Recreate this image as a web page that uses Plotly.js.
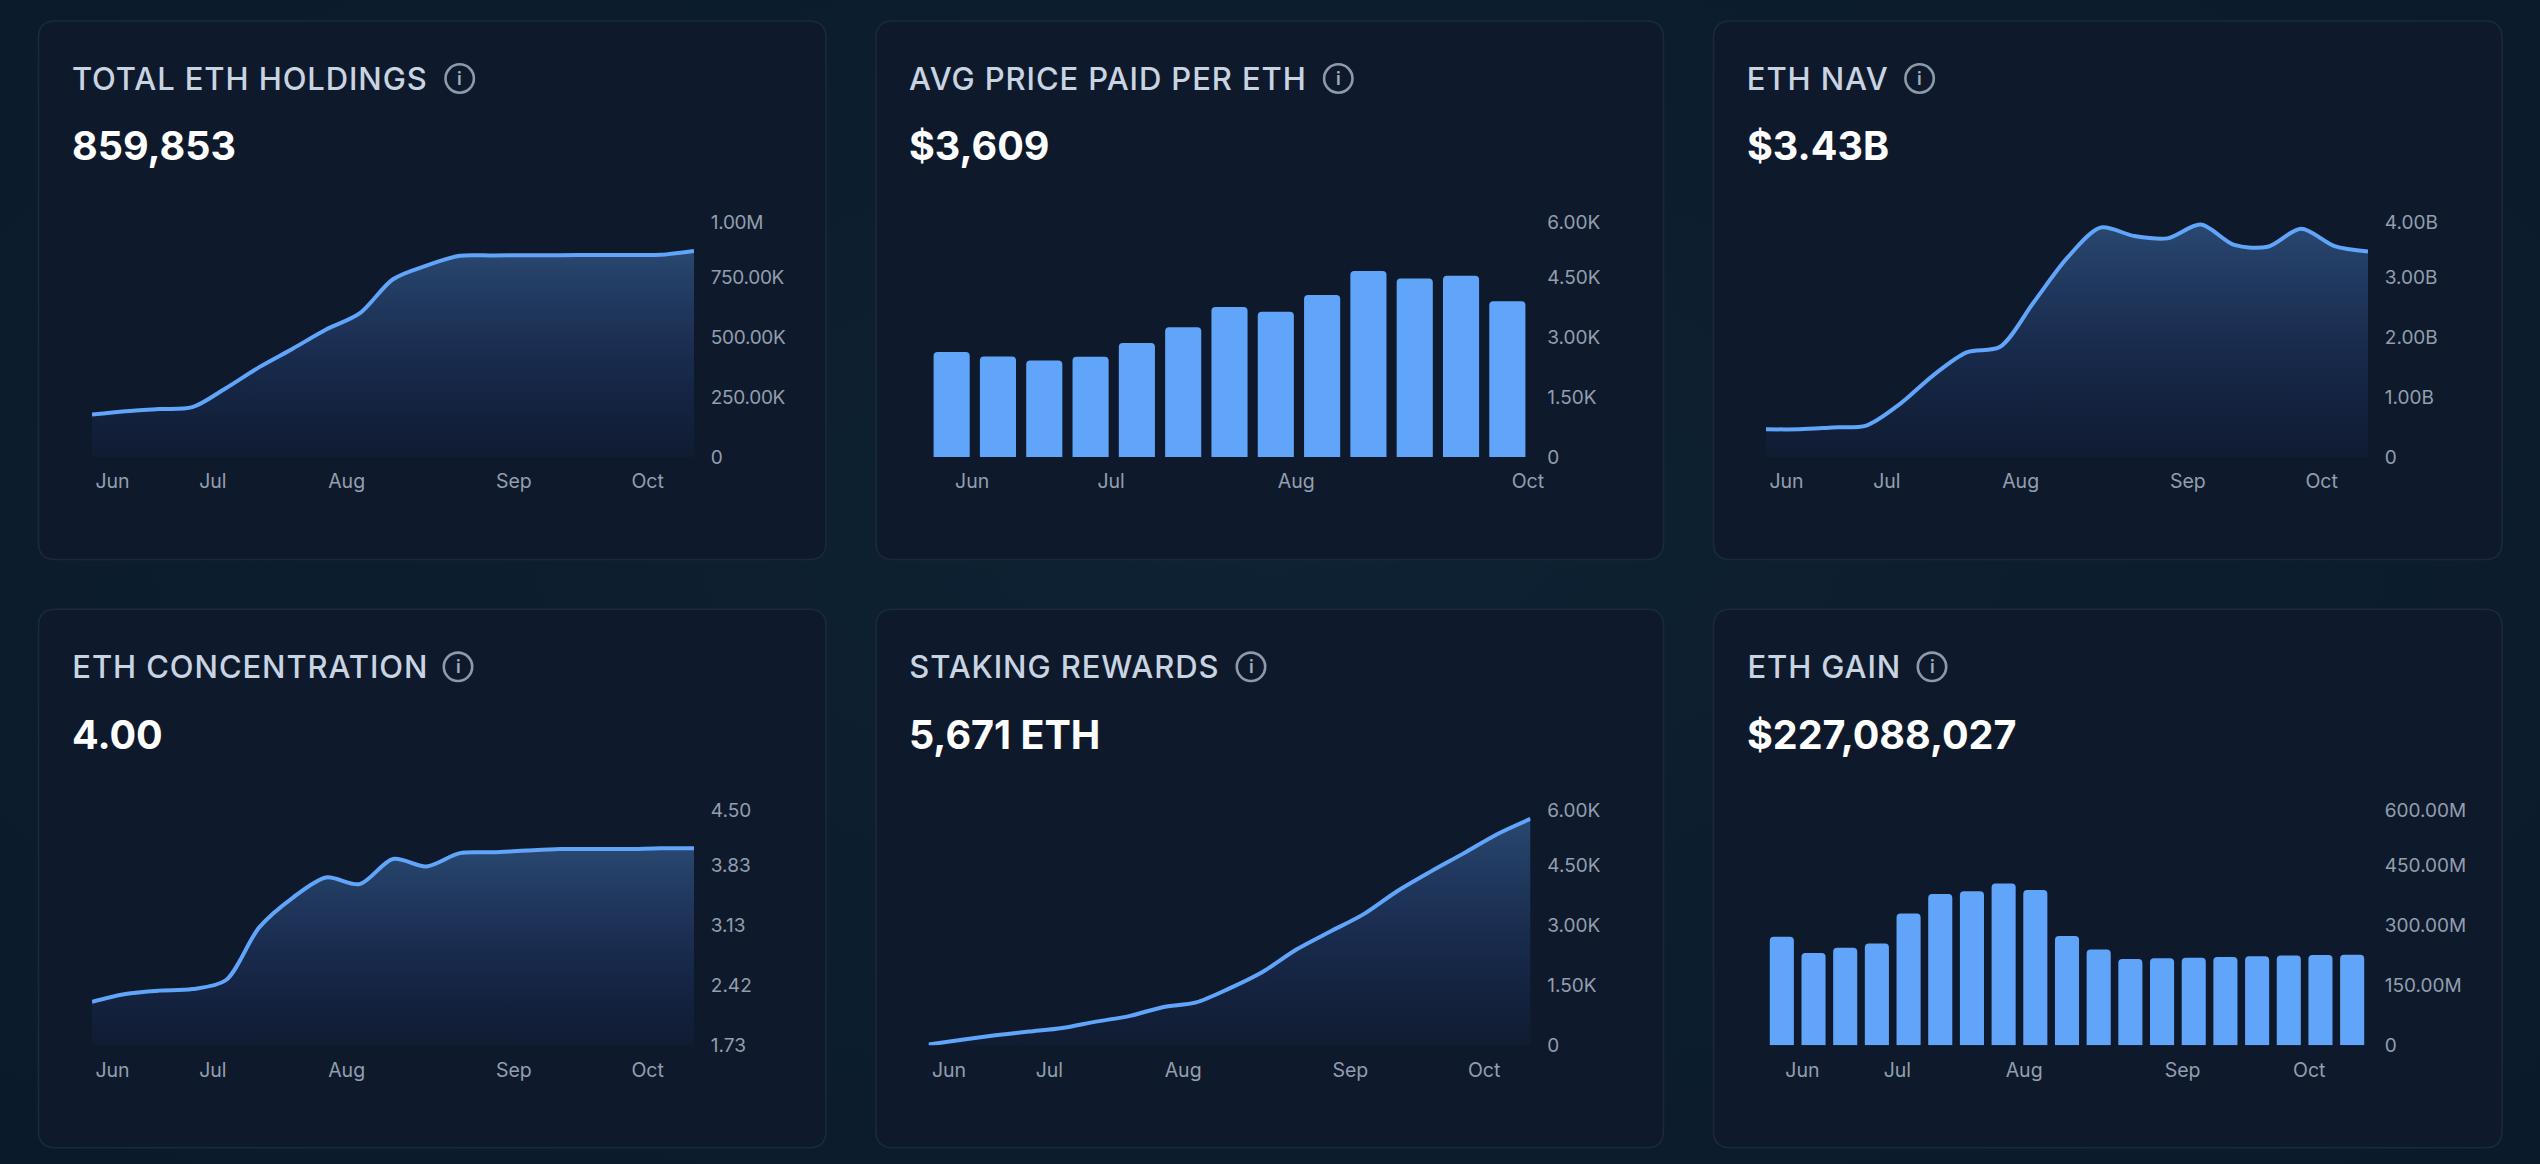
<!DOCTYPE html>
<html>
<head>
<meta charset="utf-8">
<script src="https://cdn.plot.ly/plotly-3.0.1.min.js"></script>
<style>
html,body{margin:0;padding:0;width:2540px;height:1164px;overflow:hidden;
background:radial-gradient(ellipse at 50% 45%,#0e2233 0%,#0c1d2d 55%,#0b1a2a 100%);}
#chart{width:2540px;height:1164px;}
.ytick text{letter-spacing:-0.3px;}
.card-title{letter-spacing:0.9px;}
</style>
</head>
<body>
<div id="chart"></div>
<script>
const weekIndex19 = [0,1,2,3,4,5,6,7,8,9,10,11,12,13,14,15,16,17,18];
const barIndex13 = [0,1,2,3,4,5,6,7,8,9,10,11,12];

const monthLabels = ['Jun','Jul','Aug','Sep','Oct'];
const monthStart19 = [0,3,7,12,16];
const monthLabels13 = ['Jun','Jul','Aug','Oct'];
const monthStart13 = [0,3,7,12];

const holdings = [177000,191000,200000,208000,287000,375000,452000,532000,599000,742000,799000,840000,841000,842000,842500,843000,843500,844000,860000];
const avgPrice = [2630,2519,2417,2509,2852,3250,3759,3639,4056,4657,4472,4537,3898];
const nav = [0.463e9,0.463e9,0.494e9,0.525e9,0.883e9,1.364e9,1.747e9,1.84e9,2.58e9,3.32e9,3.83e9,3.69e9,3.65e9,3.88e9,3.54e9,3.51e9,3.81e9,3.52e9,3.43e9];
const concentration = [2.234,2.324,2.362,2.38,2.482,3.093,3.435,3.67,3.593,3.884,3.798,3.952,3.961,3.982,3.999,3.999,3.999,4.008,4.008];
const stakingRewards = [20,139,250,343,435,593,731,954,1074,1426,1843,2398,2843,3278,3852,4343,4806,5287,5671];
const ethGain = [272e6,231e6,244e6,255e6,330e6,379e6,386e6,405e6,389e6,274e6,240e6,216e6,218e6,219e6,221e6,223e6,225e6,226e6,227e6];

const holdingsTicks = ['0','250.00K','500.00K','750.00K','1.00M'];
const priceTicks = ['0','1.50K','3.00K','4.50K','6.00K'];
const navTicks = ['0','1.00B','2.00B','3.00B','4.00B'];
const concentrationTicks = ['1.73','2.42','3.13','3.83','4.50'];
const gainTicks = ['0','150.00M','300.00M','450.00M','600.00M'];

const W = 2540, H = 1164;
const px = v => v / W;
const py = v => 1 - v / H;

const BLUE = '#60a5fa';
const TITLE_TRACKING = 0.9;
const cols = [{card:38.5, plot:92, cardR:826},{card:876, plot:928.5, cardR:1663.5},{card:1713.5, plot:1766, cardR:2502}];
const rows = [{top:21, bottom:559.5, base:457, title:78.5, value:146},{top:609.3, bottom:1147.8, base:1045.3, title:666.8, value:735}];
const PLOT_W = 602, PLOT_H = 239.6;

const panels = [
 {title:'TOTAL ETH HOLDINGS', value:'859,853', kind:'line', y:holdings, x:weekIndex19, range:[0,1e6], ticks:holdingsTicks, months:monthLabels, monthAt:monthStart19, icon:459.7},
 {title:'AVG PRICE PAID PER ETH', value:'$3,609', kind:'bar', y:avgPrice, x:barIndex13, range:[0,6000], ticks:priceTicks, months:monthLabels13, monthAt:monthStart13, icon:1338.3, gap:0.22},
 {title:'ETH NAV', value:'$3.43B', kind:'line', y:nav, x:weekIndex19, range:[0,4e9], ticks:navTicks, months:monthLabels, monthAt:monthStart19, icon:1919.6},
 {title:'ETH CONCENTRATION', value:'4.00', kind:'line', y:concentration, x:weekIndex19, range:[1.73,4.5], ticks:concentrationTicks, months:monthLabels, monthAt:monthStart19, icon:458},
 {title:'STAKING REWARDS', value:'5,671 ETH', kind:'line', y:stakingRewards, x:weekIndex19, range:[0,6000], ticks:priceTicks, months:monthLabels, monthAt:monthStart19, icon:1251},
 {title:'ETH GAIN', value:'$227,088,027', kind:'bar', y:ethGain, x:weekIndex19, range:[0,600e6], ticks:gainTicks, months:monthLabels, monthAt:monthStart19, icon:1932, gap:0.24}
];

const traces = [], shapes = [], annotations = [];
const layout = {
  width:W, height:H, margin:{l:0,r:0,t:0,b:0},
  paper_bgcolor:'rgba(0,0,0,0)', plot_bgcolor:'rgba(0,0,0,0)',
  showlegend:false, hovermode:false, bargap:0.22
};

function cardPath(l,t,r,b,c){
  const X=px, Y=py;
  return `M ${X(l+c)} ${Y(t)} L ${X(r-c)} ${Y(t)} Q ${X(r)} ${Y(t)} ${X(r)} ${Y(t+c)} `+
         `L ${X(r)} ${Y(b-c)} Q ${X(r)} ${Y(b)} ${X(r-c)} ${Y(b)} `+
         `L ${X(l+c)} ${Y(b)} Q ${X(l)} ${Y(b)} ${X(l)} ${Y(b-c)} `+
         `L ${X(l)} ${Y(t+c)} Q ${X(l)} ${Y(t)} ${X(l+c)} ${Y(t)} Z`;
}

panels.forEach((p,i)=>{
  const col = cols[i%3], row = rows[Math.floor(i/3)], n = i+1, sfx = n===1?'':String(n);
  const isBar = p.kind==='bar';
  const xr = isBar ? [-0.5,p.x.length-0.5] : [0,p.x.length-1];
  const stepPx = PLOT_W/(xr[1]-xr[0]);
  const labelShift = 20.5/stepPx;
  const span = p.range[1]-p.range[0];

  layout['xaxis'+sfx] = {
    domain:[px(col.plot),px(col.plot+PLOT_W)], anchor:'y'+sfx, range:xr, type:'linear',
    showgrid:false, zeroline:false, showline:false, fixedrange:true,
    tickmode:'array', tickvals:p.monthAt.map(m=>m+labelShift), ticktext:p.months,
    ticks:'outside', ticklen:7, tickcolor:'rgba(0,0,0,0)', tickangle:0,
    tickfont:{family:'Inter',size:19.5,color:'#939eae'}
  };
  layout['yaxis'+sfx] = {
    domain:[py(row.base),py(row.base-PLOT_H)], anchor:'x'+sfx, side:'right', range:p.range,
    showgrid:false, zeroline:false, showline:false, fixedrange:true,
    tickmode:'array',
    tickvals:p.ticks.map((t,k)=> k===4 ? p.range[0]+span*0.98 : p.range[0]+span*k/4),
    ticktext:p.ticks,
    ticks:'outside', ticklen:12, tickcolor:'rgba(0,0,0,0)',
    tickfont:{family:'Inter',size:19,color:'#939eae'}
  };

  if(isBar){
    traces.push({type:'bar',x:p.x,y:p.y,xaxis:'x'+sfx,yaxis:'y'+sfx,
      marker:{color:BLUE,cornerradius:4,line:{width:0}},width:1-p.gap});
  }else{
    traces.push({type:'scatter',mode:'lines',x:p.x,y:p.y,xaxis:'x'+sfx,yaxis:'y'+sfx,
      line:{color:BLUE,width:4,shape:'spline',smoothing:0.85},
      fill:'tozeroy',
      fillgradient:{type:'vertical',start:Math.max(...p.y),stop:p.range[0],
        colorscale:[[0,'rgba(96,165,250,0.33)'],[1,'rgba(60,90,220,0.03)']]}});
  }

  shapes.push({type:'path',xref:'paper',yref:'paper',layer:'below',
    path:cardPath(col.card,row.top,col.cardR,row.bottom,17),
    fillcolor:'#0e1a2c',line:{color:'#1c2939',width:1.6}});
  const r=14.2;
  shapes.push({type:'circle',xref:'paper',yref:'paper',layer:'above',
    x0:px(p.icon-r),x1:px(p.icon+r),y0:py(row.title+r),y1:py(row.title-r),
    line:{color:'#8d9aac',width:2.6}});
  annotations.push({xref:'paper',yref:'paper',x:px(p.icon),y:py(row.title),text:'i',showarrow:false,
    xanchor:'center',yanchor:'middle',font:{family:'Inter',size:18,color:'#a3aebd',weight:600}});
  annotations.push({xref:'paper',yref:'paper',x:px(col.card+31.5+p.title.length*TITLE_TRACKING/2),y:py(row.title),text:p.title,showarrow:false,
    xanchor:'left',yanchor:'middle',font:{family:'Inter',size:31,color:'#c9d4e2',weight:500}});
  annotations.push({xref:'paper',yref:'paper',x:px(col.card+31.5),y:py(row.value),text:p.value,showarrow:false,
    xanchor:'left',yanchor:'middle',font:{family:'Inter',size:39.5,color:'#ffffff',weight:700}});
});

layout.shapes = shapes;
layout.annotations = annotations;
const gd = document.getElementById('chart');
Plotly.newPlot(gd,traces,layout,{displayModeBar:false,staticPlot:true,responsive:false}).then(()=>{
  gd.querySelectorAll('.annotation-text').forEach(t=>{
    if(t.textContent.length>1 && /^[A-Z ]+$/.test(t.textContent)) t.classList.add('card-title');
  });
});
</script>
</body>
</html>
